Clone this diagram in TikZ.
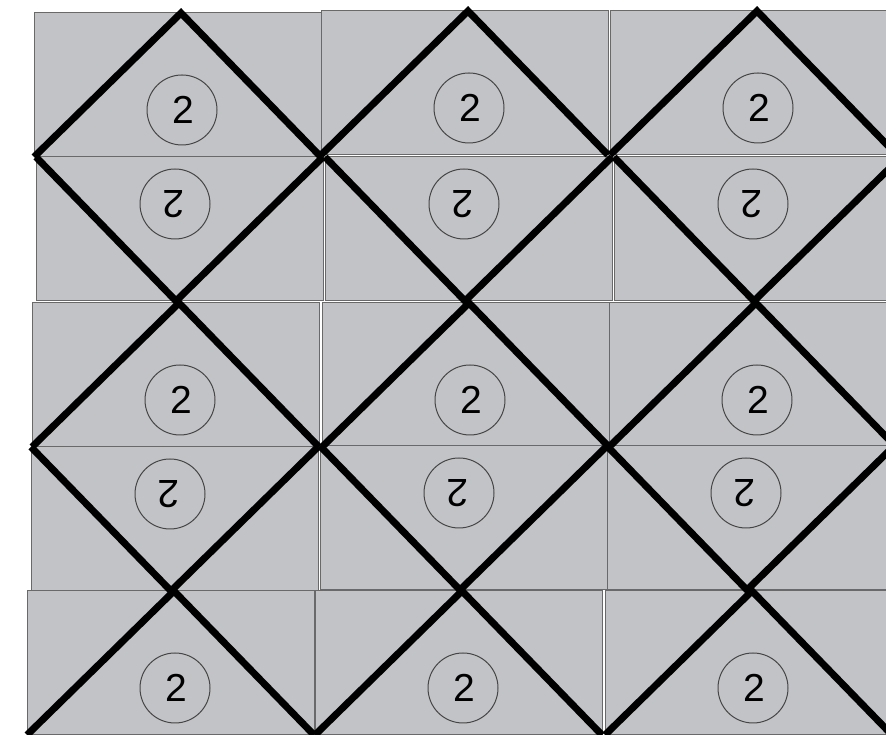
\documentclass[tikz,border=0pt]{standalone}
\usepackage{fontspec}
\setmainfont{Liberation Sans}
\definecolor{tilefill}{RGB}{194,195,198}
\definecolor{tileedge}{RGB}{105,105,105}
\definecolor{ringcol}{RGB}{70,70,70}
\tikzset{
  tilebox/.style={fill=tilefill,draw=tileedge,line width=1pt},
  tribox/.style={draw=black,line width=7pt,line join=miter},
  ringnode/.style={circle,draw=ringcol,line width=1pt,minimum size=70pt,inner sep=0pt,font=\fontsize{39}{39}\selectfont,transform shape}
}
\begin{document}
\begin{tikzpicture}[x=1pt,y=1pt]
\useasboundingbox (0,0) rectangle (886,735);
\clip (0,0) rectangle (886,735);
\fill[white] (0,0) rectangle (886,735);
\def\tilelist{34/578/0/a1,321/580/0/b1,610/580/0/c1,
  323/578/180/a2,612/578/180/b2,901/578/180/c2,
  32/288/0/a3,322/288/0/b3,609/288/0/c3,
  318/288/180/a4,607/289/180/b4,894/289/180/c4,
  27/0/0/a5,315/0/0/b5,605/0/0/c5}
% tiles (background rectangles)
\foreach \ox/\oy/\rot/\nm in \tilelist {
  \begin{scope}[shift={(\ox,\oy)},rotate=\rot]
    \draw[tilebox] (0,0) rectangle (287,144);
  \end{scope}
}
% triangles and numbered circles
\foreach \ox/\oy/\rot/\nm in \tilelist {
  \begin{scope}[shift={(\ox,\oy)},rotate=\rot]
    \coordinate (l-\nm) at (0,0);
    \coordinate (t-\nm) at (147,144);
    \coordinate (r-\nm) at (287,0);
    \draw[tribox] (l-\nm) -- (t-\nm) -- (r-\nm);
    \node[ringnode] (n-\nm) at (148,47) {\hspace*{2pt}2};
  \end{scope}
}
\end{tikzpicture}
\end{document}
